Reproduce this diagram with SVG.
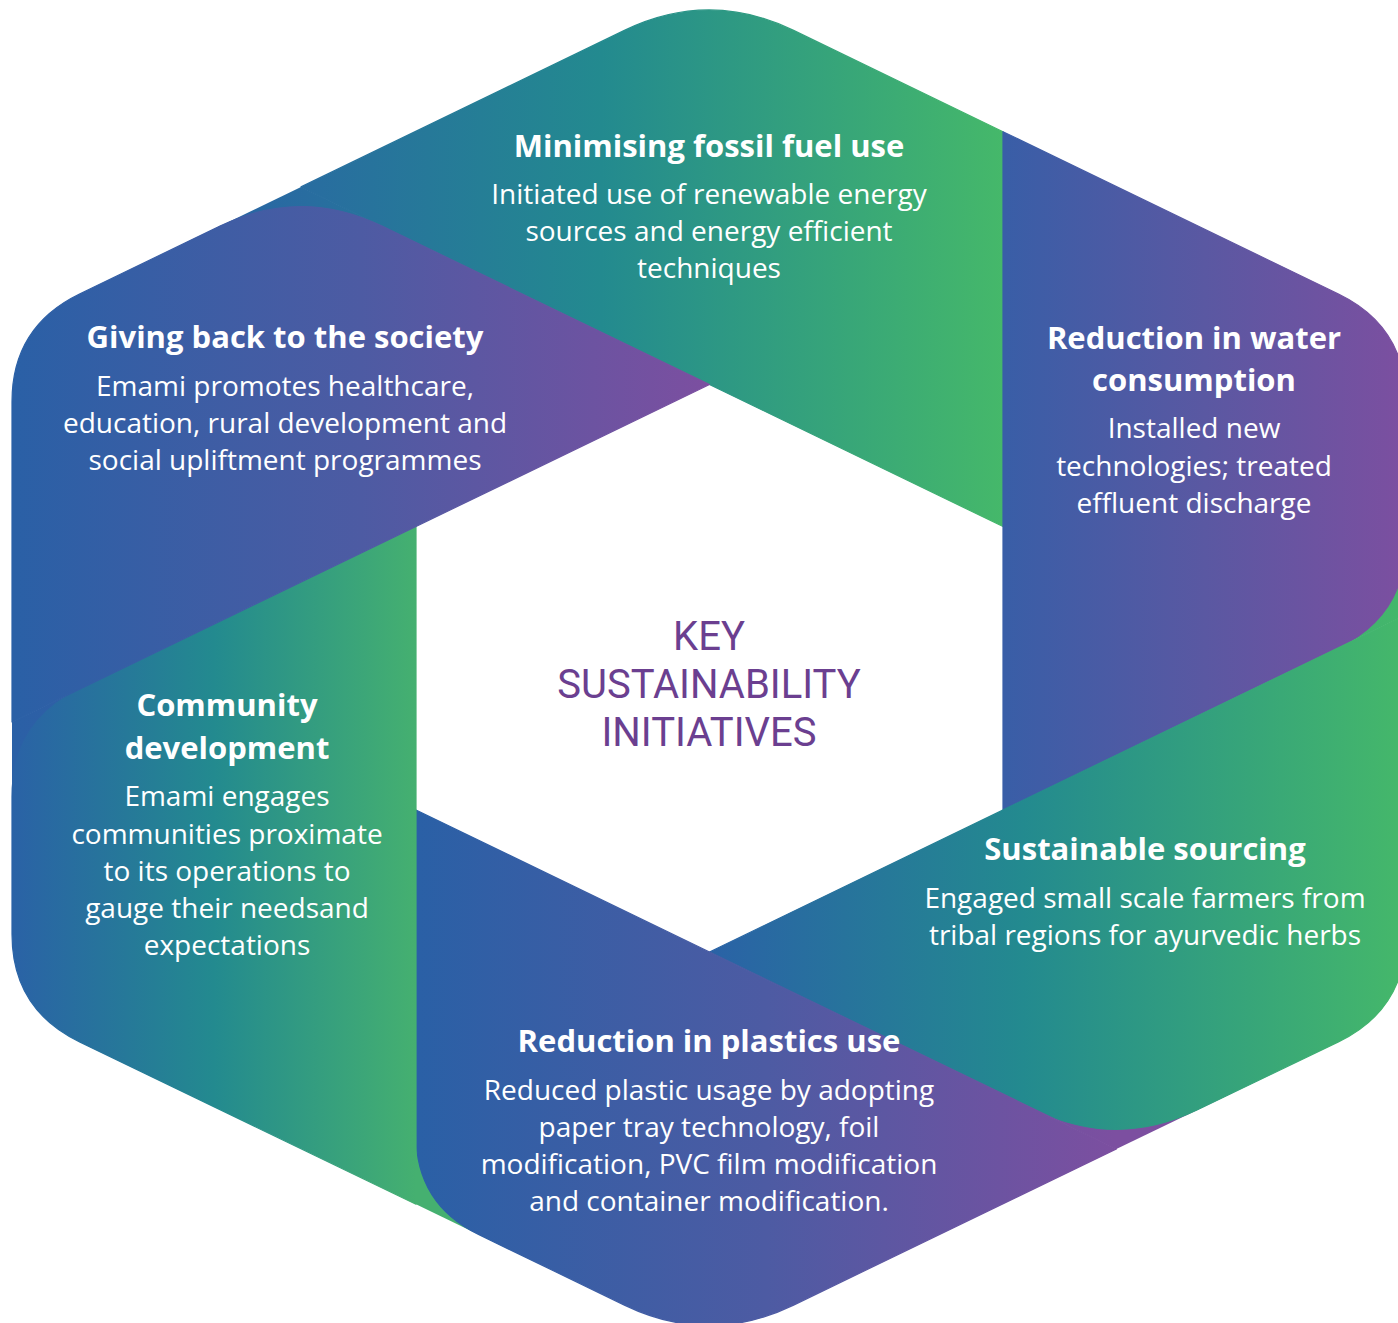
<svg xmlns="http://www.w3.org/2000/svg" width="1398" height="1323" viewBox="0 0 1398 1323">
<defs>
<linearGradient id="gTop" gradientUnits="userSpaceOnUse" x1="200" y1="0" x2="1003" y2="0"><stop offset="0" stop-color="#2a62a6"/><stop offset="0.5" stop-color="#238a8f"/><stop offset="1" stop-color="#45b86a"/></linearGradient>
<linearGradient id="gSust" gradientUnits="userSpaceOnUse" x1="709.5" y1="0" x2="1406" y2="0"><stop offset="0" stop-color="#2a62a6"/><stop offset="0.45" stop-color="#238a8f"/><stop offset="1" stop-color="#45b86a"/></linearGradient>
<linearGradient id="gComm" gradientUnits="userSpaceOnUse" x1="12" y1="0" x2="416" y2="0"><stop offset="0" stop-color="#2a62a6"/><stop offset="0.5" stop-color="#238a8f"/><stop offset="1" stop-color="#45b070"/></linearGradient>
<linearGradient id="gGive" gradientUnits="userSpaceOnUse" x1="12" y1="0" x2="709.5" y2="0"><stop offset="0" stop-color="#2a60a6"/><stop offset="0.5" stop-color="#4d5ba3"/><stop offset="1" stop-color="#7c4fa0"/></linearGradient>
<linearGradient id="gWater" gradientUnits="userSpaceOnUse" x1="1003" y1="0" x2="1406" y2="0"><stop offset="0" stop-color="#395ea7"/><stop offset="0.5" stop-color="#5a58a2"/><stop offset="1" stop-color="#7c4fa0"/></linearGradient>
<linearGradient id="gPlast" gradientUnits="userSpaceOnUse" x1="416" y1="0" x2="1116" y2="0"><stop offset="0" stop-color="#2a60a6"/><stop offset="0.5" stop-color="#4d5ba3"/><stop offset="1" stop-color="#7c4fa0"/></linearGradient>
</defs>
<style>
.piece{stroke-width:1.2;stroke-linejoin:round}
.ti{font-family:"Open Sans","Liberation Sans",sans-serif;font-weight:700;font-size:31px;fill:#ffffff;text-anchor:middle}
.bo{font-family:"Open Sans","Liberation Sans",sans-serif;font-weight:400;font-size:28px;fill:#ffffff;text-anchor:middle}
.ce{font-family:Roboto,"Open Sans",sans-serif;font-weight:400;font-size:40px;fill:#6b3f90;text-anchor:middle}
</style>
<g id="connectors"></g>
<g id="underlays">
<polygon points="301,186.9 184,243.5 418,243.5" fill="url(#gTop)"/>
<polygon points="1406,615 1406,485 1289,671.6" fill="url(#gSust)"/>
<polygon points="1116.4,1148.9 1233.5,1092.5 999.4,1092.3" fill="url(#gPlast)"/>
<polygon points="416,1204.2 533,1260.8 416,1074.2" fill="url(#gComm)"/>
<polygon points="12,721.9 12,851.9 129,665.3" fill="url(#gGive)"/>
</g>
<g id="node-fossil">
<path class="piece" d="M624.4,30.4 Q709,-10.5 793.6,30.4 L1003,131.7 L1003,526.5 L301,186.9 Z" fill="url(#gTop)" stroke="url(#gTop)"/>
<text class="ti" x="709" y="157">Minimising fossil fuel use</text>
<text class="bo" x="709" y="204">Initiated use of renewable energy</text>
<text class="bo" x="709" y="241">sources and energy efficient</text>
<text class="bo" x="709" y="278">techniques</text>
</g>
<g id="node-water">
<path class="piece" d="M1338.5,294 Q1406,326.7 1406,401.7 L1406,540 Q1406,615 1338.5,647.7 L1003,810 L1003,131.7 Z" fill="url(#gWater)" stroke="url(#gWater)"/>
<text class="ti" x="1194" y="349">Reduction in water</text>
<text class="ti" x="1194" y="391">consumption</text>
<text class="bo" x="1194" y="438">Installed new</text>
<text class="bo" x="1194" y="476">technologies; treated</text>
<text class="bo" x="1194" y="513">effluent discharge</text>
</g>
<g id="node-sourcing">
<path class="piece" d="M1406,934.3 Q1406,1009.3 1338.4,1041.9 L1197.5,1109.8 Q1116.4,1148.9 1035.4,1109.7 L709.5,952 L1406,615 Z" fill="url(#gSust)" stroke="url(#gSust)"/>
<text class="ti" x="1145" y="860">Sustainable sourcing</text>
<text class="bo" x="1145" y="908">Engaged small scale farmers from</text>
<text class="bo" x="1145" y="945">tribal regions for ayurvedic herbs</text>
</g>
<g id="node-plastics">
<path class="piece" d="M793.6,1305.1 Q709,1346 624.4,1305.1 L479,1234.7 Q416,1204.2 416,1134.2 L416,810 L1116.4,1148.9 Z" fill="url(#gPlast)" stroke="url(#gPlast)"/>
<text class="ti" x="709" y="1052">Reduction in plastics use</text>
<text class="bo" x="709" y="1100">Reduced plastic usage by adopting</text>
<text class="bo" x="709" y="1137">paper tray technology, foil</text>
<text class="bo" x="709" y="1174">modification, PVC film modification</text>
<text class="bo" x="709" y="1211">and container modification.</text>
</g>
<g id="node-community">
<path class="piece" d="M79.6,1041.9 Q12,1009.3 12,934.3 L12,796.9 Q12,721.9 79.5,689.2 L416,526.5 L416,1204.2 Z" fill="url(#gComm)" stroke="url(#gComm)"/>
<text class="ti" x="227" y="716">Community</text>
<text class="ti" x="227" y="759">development</text>
<text class="bo" x="227" y="806">Emami engages</text>
<text class="bo" x="227" y="844">communities proximate</text>
<text class="bo" x="227" y="881">to its operations to</text>
<text class="bo" x="227" y="918">gauge their needsand</text>
<text class="bo" x="227" y="955">expectations</text>
</g>
<g id="node-society">
<path class="piece" d="M12,401.7 Q12,326.7 79.5,294 L220,226.1 Q301,186.9 382,226.1 L709.5,384.5 L12,721.9 Z" fill="url(#gGive)" stroke="url(#gGive)"/>
<text class="ti" x="285" y="348">Giving back to the society</text>
<text class="bo" x="285" y="396">Emami promotes healthcare,</text>
<text class="bo" x="285" y="433">education, rural development and</text>
<text class="bo" x="285" y="470">social upliftment programmes</text>
</g>
<g id="node-center">
<text class="ce" x="709" y="650">KEY</text>
<text class="ce" x="709" y="698">SUSTAINABILITY</text>
<text class="ce" x="709" y="746">INITIATIVES</text>
</g>
</svg>
